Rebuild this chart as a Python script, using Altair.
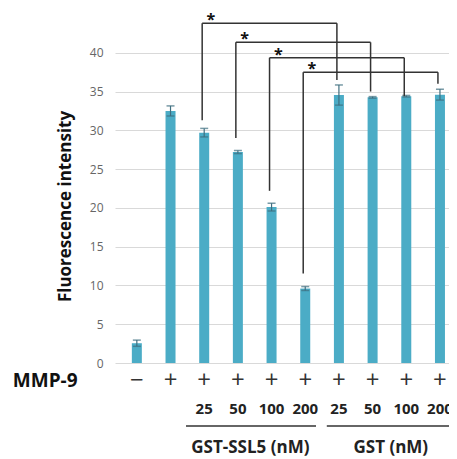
import altair as alt
import pandas as pd

# ---- data ----
mmp9 = ["\u2212", "+", "+", "+", "+", "+", "+", "+", "+", "+"]
conc = ["", "", "25", "50", "100", "200", "25", "50", "100", "200"]
values = [2.55, 32.5, 29.7, 27.2, 20.1, 9.6, 34.55, 34.25, 34.4, 34.6]
errors = [0.4, 0.65, 0.55, 0.2, 0.5, 0.25, 1.3, 0.1, 0.1, 0.7]
groups = ["GST-SSL5 (nM)", "GST (nM)"]
y_ticks = [0, 5, 10, 15, 20, 25, 30, 35, 40]
# significance brackets (bar index pairs, bracket height, leg ends)
sig_left = [3, 4, 5, 6]
sig_right = [7, 8, 9, 10]
sig_top = [43.8, 41.35, 39.36, 37.48]
sig_left_end = [31.3, 29.0, 22.2, 11.55]
sig_right_end = [36.5, 35.0, 34.4, 36.0]

# ---- layout constants ----
FONT = "Open Sans"
BAR_COLOR = "#4bacc6"
ERR_COLOR = "#3f6f80"
LINE_COLOR = "#333333"
Y_ROW_SIGN = -2.32
Y_ROW_CONC = -5.93
Y_ROW_LINE = -8.12
Y_ROW_GROUP = -10.96
LEG_SHIFT = -0.06

n = len(values)
pos = list(range(1, n + 1))
bars = pd.DataFrame({
    "pos": pos, "value": values,
    "lo": [v - e for v, e in zip(values, errors)],
    "hi": [v + e for v, e in zip(values, errors)],
    "mmp9": mmp9, "conc": conc,
})

xs = alt.Scale(domain=[0.5, 10.12], nice=False, zero=False)
ys = alt.Scale(domain=[0, 45], nice=False, zero=False)

y_axis = alt.Axis(values=y_ticks, grid=True, gridColor="#d9d9d9", gridWidth=1,
                  ticks=False, domain=False, labelPadding=12,
                  labelFont=FONT, labelFontSize=12, labelColor="#666666",
                  titleFont=FONT, titleFontSize=17, titleFontWeight="bold",
                  titleColor="#111111", titleAngle=270, titleX=-50, titleY=192,
                  titleAlign="center", titleBaseline="middle")
Y_TITLE = "Fluorescence intensity"

X = lambda f: alt.X(f, type="quantitative", scale=xs, axis=None, title=None)
Y = lambda f: alt.Y(f, type="quantitative", scale=ys, axis=y_axis, title=Y_TITLE)

bar_layer = alt.Chart(bars).mark_bar(size=10, color=BAR_COLOR).encode(
    x=X("pos"), y=Y("value"))

err_rule = alt.Chart(bars).mark_rule(color=ERR_COLOR, strokeWidth=1.2).encode(
    x=X("pos"), y=Y("lo"), y2="hi")
err_cap_hi = alt.Chart(bars).mark_tick(color=ERR_COLOR, size=8, thickness=1.5,
                                       orient="horizontal").encode(
    x=X("pos"), y=Y("hi"))
err_cap_lo = alt.Chart(bars).mark_tick(color=ERR_COLOR, size=8, thickness=1.5,
                                       orient="horizontal").encode(
    x=X("pos"), y=Y("lo"))

sig = pd.DataFrame({
    "l": [p + LEG_SHIFT for p in sig_left], "r": [p + LEG_SHIFT for p in sig_right],
    "top": sig_top, "le": sig_left_end, "re": sig_right_end,
    "star_x": [p + 0.2 for p in sig_left], "star": ["*"] * len(sig_left),
})
sig_h = alt.Chart(sig).mark_rule(color=LINE_COLOR, strokeWidth=1.5).encode(
    x=X("l"), x2="r", y=Y("top"))
sig_l = alt.Chart(sig).mark_rule(color=LINE_COLOR, strokeWidth=1.5).encode(
    x=X("l"), y=Y("le"), y2="top")
sig_r = alt.Chart(sig).mark_rule(color=LINE_COLOR, strokeWidth=1.5).encode(
    x=X("r"), y=Y("re"), y2="top")
sig_star = alt.Chart(sig).mark_text(font=FONT, fontSize=16, fontWeight="bold",
                                    color="#111111", baseline="alphabetic", dy=2).encode(
    x=X("star_x"), y=Y("top"), text="star")

sign_row = alt.Chart(bars).transform_calculate(yy=str(Y_ROW_SIGN)).mark_text(
    font=FONT, fontSize=24, color="#333333", baseline="middle").encode(
    x=X("pos"), y=Y("yy"), text="mmp9")
conc_row = alt.Chart(bars).transform_calculate(yy=str(Y_ROW_CONC)).mark_text(
    font=FONT, fontSize=15, fontWeight="bold", color="#222222", baseline="middle").encode(
    x=X("pos"), y=Y("yy"), text="conc")

labels = pd.DataFrame({"x": [-1.72], "y": [Y_ROW_SIGN], "t": ["MMP-9"]})
mmp_label = alt.Chart(labels).mark_text(
    font=FONT, fontSize=19, fontWeight="bold", color="#111111", baseline="middle").encode(
    x=X("x"), y=Y("y"), text="t")

grp = pd.DataFrame({
    "lo": [2.46, 6.64], "hi": [6.32, 10.6], "cx": [4.37, 8.54],
    "yl": [Y_ROW_LINE] * 2, "yg": [Y_ROW_GROUP] * 2, "t": groups,
})
grp_line = alt.Chart(grp).mark_rule(color=LINE_COLOR, strokeWidth=1.5).encode(
    x=X("lo"), x2="hi", y=Y("yl"))
grp_text = alt.Chart(grp).mark_text(
    font=FONT, fontSize=17, fontWeight="bold", color="#222222", baseline="middle").encode(
    x=X("cx"), y=Y("yg"), text="t")

chart = alt.layer(
    bar_layer, err_rule, err_cap_hi, err_cap_lo,
    sig_h, sig_l, sig_r, sig_star,
    sign_row, conc_row, mmp_label, grp_line, grp_text,
).properties(
    width=334, height=349,
    autosize=alt.AutoSizeParams(type="none"),
    padding={"left": 107, "top": 6, "right": 0, "bottom": 96},
).configure(background="white").configure_view(stroke=None, strokeWidth=0)

chart.save("out.html", embed_options={"renderer": "svg", "actions": False})
